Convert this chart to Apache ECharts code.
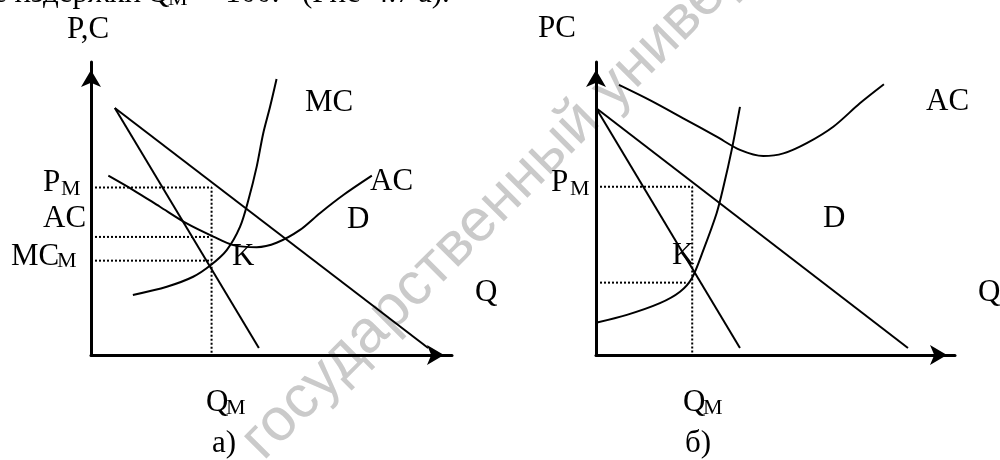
<!DOCTYPE html>
<html>
<head>
<meta charset="utf-8">
<script src="https://cdn.jsdelivr.net/npm/echarts@6/dist/echarts.min.js"></script>
<style>
  html, body { margin: 0; padding: 0; background: #fff; }
  #chart { width: 1000px; height: 460px; }
</style>
</head>
<body>
<div id="chart"></div>
<script type="text/javascript">
// рис. а) -- Q и P в условных единицах 0..10
var aD  = [[0.66, 8.43], [9.34, 0.24]];
var aMR = [[0.66, 8.43], [4.65, 0.24]];
var aMC = [[1.16, 2.05], [2.10, 2.33], [2.83, 2.67], [3.32, 3.07], [3.76, 3.58], [4.13, 4.38],
           [4.36, 5.29], [4.59, 6.43], [4.77, 7.56], [4.96, 8.47], [5.14, 9.42]];
var aAC = [[0.48, 6.12], [1.17, 5.63], [1.91, 5.06], [2.65, 4.49], [3.39, 4.04], [3.94, 3.75],
           [4.59, 3.68], [5.14, 3.83], [5.79, 4.27], [6.34, 4.84], [6.99, 5.46], [7.78, 6.12]];
var aQm = 3.34, aPm = 5.72, aACm = 4.03, aMCm = 3.22;

// рис. б)
var bD  = [[0, 8.43], [8.69, 0.24]];
var bMR = [[0, 8.43], [4.01, 0.24]];
var bMC = [[0, 1.10], [0.86, 1.37], [1.78, 1.77], [2.34, 2.16], [2.67, 2.62], [2.99, 3.58],
           [3.36, 4.84], [3.55, 5.74], [3.78, 7.00], [4.01, 8.47]];
var bAC = [[0.64, 9.22], [1.50, 8.70], [2.43, 8.08], [3.36, 7.45], [4.01, 7.00], [4.66, 6.79],
           [5.22, 6.88], [5.87, 7.23], [6.61, 7.79], [7.35, 8.59], [8.02, 9.24]];
var bQm = 2.68, bPm = 5.74, bMCm = 2.47;

var serif = '"Liberation Serif", "Times New Roman", serif';
var big = 31, small = 22;

function txt(s, x, base, size) {
    return {
        type: 'text', z: 10,
        style: { text: s, x: x, y: base - size * 0.34, font: size + 'px ' + serif,
                 fill: '#000', align: 'left', verticalAlign: 'middle' }
    };
}

function axis(gi) {
    return {
        gridIndex: gi, type: 'value', min: 0, max: 10,
        axisLine: { show: true, onZero: false, symbol: ['none', 'arrow'], symbolSize: [15, 17],
                    symbolOffset: [0, -8], lineStyle: { color: '#000', width: 3 } },
        axisTick: { show: false }, axisLabel: { show: false }, splitLine: { show: false }
    };
}

function curve(data, gi) {
    return { type: 'line', xAxisIndex: gi, yAxisIndex: gi, data: data, smooth: 0.3,
             showSymbol: false, silent: true, lineStyle: { color: '#000', width: 2 } };
}
function straight(data, gi) {
    return { type: 'line', xAxisIndex: gi, yAxisIndex: gi, data: data, showSymbol: false, silent: true,
             lineStyle: { color: '#000', width: 2 } };
}
function dots(data, gi) {
    return { type: 'line', xAxisIndex: gi, yAxisIndex: gi, data: data, showSymbol: false, silent: true,
             lineStyle: { color: '#000', width: 2, type: [2, 2] } };
}

var chart = echarts.init(document.getElementById('chart'));
var option = {
    animation: false,
    backgroundColor: '#fff',
    grid: [
        { left: 91, top: 62, width: 361, height: 293 },
        { left: 596, top: 62, width: 359, height: 293 }
    ],
    xAxis: [axis(0), axis(1)],
    yAxis: [axis(0), axis(1)],
    series: [
        straight(aD, 0), straight(aMR, 0), curve(aMC, 0), curve(aAC, 0),
        dots([[0, aPm], [aQm, aPm], [aQm, 0]], 0),
        dots([[0, aACm], [aQm - 0.04, aACm]], 0),
        dots([[0, aMCm], [aQm, aMCm]], 0),

        straight(bD, 1), straight(bMR, 1), curve(bMC, 1), curve(bAC, 1),
        dots([[0, bPm], [bQm, bPm], [bQm, 0]], 1),
        dots([[0, bMCm], [bQm - 0.18, bMCm]], 1)
    ],
    graphic: [
        // водяной знак
        {
            type: 'text', x: 266, y: 464, rotation: 45 * Math.PI / 180, z: 0,
            style: { text: 'государственный университет', x: 0, y: -20,
                     font: '60px "Liberation Sans", Arial, sans-serif', fill: '#cacaca',
                     align: 'left', verticalAlign: 'middle' }
        },
        // обрезанная строка текста сверху
        { type: 'text', z: 10, style: { text: 'предельные издержки', x: 141, y: 4 - big * 0.34,
          font: big + 'px ' + serif, fill: '#000', align: 'right', verticalAlign: 'middle' } },
        txt('Q', 147, 4, big), txt('M', 168, 7, small),
        txt('= 100.', 200, 4, big), txt('(Рис', 302, 4, big),
        txt('4.7', 373, 4, big), txt('а).', 418, 4, big),

        // а)
        txt('P,C', 67, 40, big),
        txt('MC', 305, 113, big),
        txt('P', 43, 193, big), txt('M', 61, 197, small),
        txt('AC', 43, 229, big),
        txt('MC', 11, 267, big), txt('M', 57, 269, small),
        txt('AC', 370, 192, big),
        txt('D', 347, 230, big),
        txt('K', 232, 267, big),
        txt('Q', 475, 303, big),
        txt('Q', 206, 413, big), txt('M', 226, 416, small),
        txt('а)', 212, 454, big),

        // б)
        txt('PC', 538, 39, big),
        txt('AC', 926, 112, big),
        txt('P', 551, 193, big), txt('M', 570, 197, small),
        txt('D', 823, 229, big),
        txt('K', 672, 266, big),
        txt('Q', 978, 303, big),
        txt('Q', 683, 413, big), txt('M', 703, 416, small),
        txt('б)', 685, 454, big)
    ]
};
chart.setOption(option);
</script>
</body>
</html>
